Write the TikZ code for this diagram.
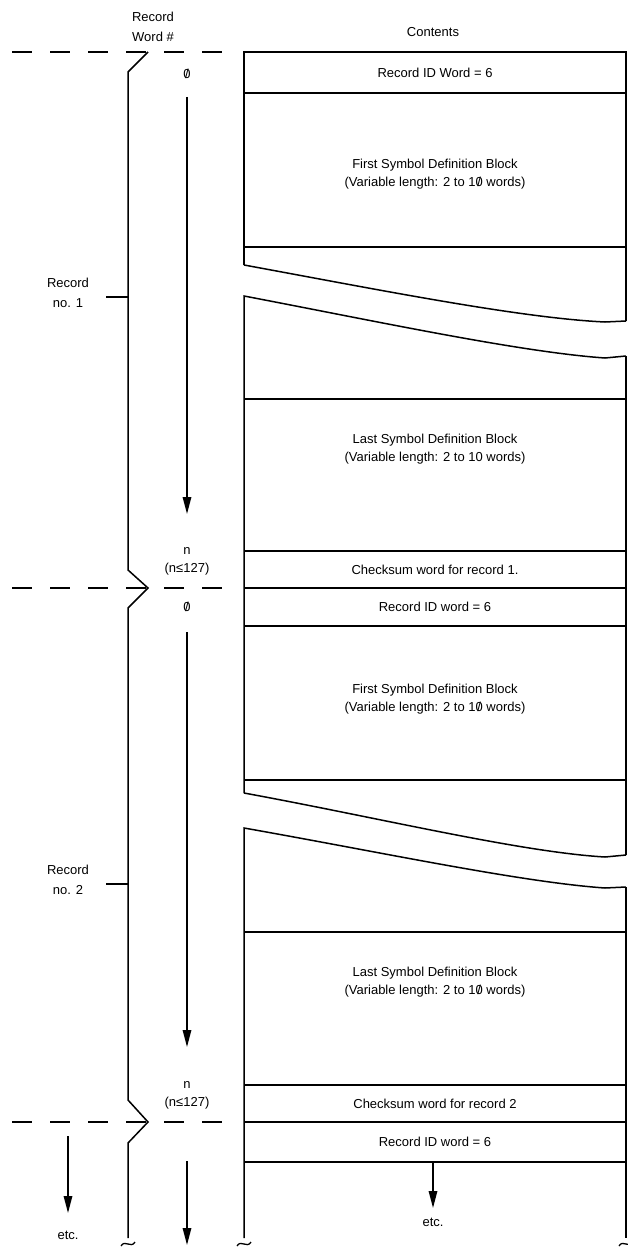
\documentclass[tikz,border=0pt]{standalone}
\usepackage{fontspec}
\setmainfont{Liberation Sans}
\usetikzlibrary{arrows.meta}
\newcommand{\zs}{\ooalign{0\cr\hidewidth/\hidewidth\cr}}
\tikzset{
  txt/.style={font=\fontsize{13}{18}\selectfont, align=center, inner sep=0pt},
  wide/.style={font=\fontsize{13}{20.5}\selectfont, align=center, inner sep=0pt},
  edge/.style={line width=1.5pt},
  dashline/.style={line width=1.8pt, dash pattern=on 20pt off 18pt},
  arr/.style={line width=1.5pt, -{Triangle[length=17pt,width=8.5pt]}},
  tick/.style={line width=1.5pt},
}
\newcommand{\tildemark}[2]{\draw[line width=1.3pt] (#1-7,#2+2) .. controls (#1-3,#2-5) and (#1+3,#2+5) .. (#1+7,#2-2);}
\begin{document}
\begin{tikzpicture}[x=1pt,y=-1pt]
\useasboundingbox (0,0) rectangle (628,1249);

% headings
\node[wide] (hword) at (153,27) {Record\\Word \#};
\node[txt] (hcont) at (433,32) {Contents};

% dashed separators
\draw[dashline] (12,52) -- (224,52);
\draw[dashline] (12,588) -- (224,588);
\draw[dashline] (12,1122) -- (224,1122);

% brace
\draw[edge, line join=miter] (148,52) -- (128,72) -- (128,570) -- (148,588) -- (128,608) -- (128,1100) -- (148,1122) -- (128,1143) -- (128,1238);
\coordinate (b1) at (128,297);
\coordinate (b2) at (128,884);
\coordinate (t1) at (106,297);
\coordinate (t2) at (106,884);
\draw[tick] (t1) -- (b1);
\draw[tick] (t2) -- (b2);
\node[wide] (rec1) at (68,293) {Record\\no. 1};
\node[wide] (rec2) at (68,880) {Record\\no. 2};

% box outline
\draw[edge] (244,265) -- (244,52) -- (626,52) -- (626,321);
\draw[edge] (244,265) .. controls (380,290) and (520,318) .. (605,322) -- (626,321);
\draw[edge] (626,356) -- (605,358) .. controls (520,352) and (380,322) .. (244,296) -- (244,793);
\draw[edge] (626,356) -- (626,855);
\draw[edge] (244,793) .. controls (380,818) and (520,852) .. (605,857) -- (626,855);
\draw[edge] (626,887) -- (605,888) .. controls (520,882) and (380,852) .. (244,828) -- (244,1238);
\draw[edge] (626,887) -- (626,1238);
\foreach \yy in {93,247,399,551,588,626,780,932,1085,1122,1162}
  \draw[edge] (244,\yy) -- (626,\yy);

% tildes
\tildemark{128}{1244}
\tildemark{244}{1244}
\tildemark{626}{1244}

% contents
\node[txt] (id1) at (435,73) {Record ID Word = 6};
\node[txt] (fb1) at (435,174) {First Symbol Definition Block\\(Variable length: 2 to 1\zs{} words)};
\node[txt] (lb1) at (435,449) {Last Symbol Definition Block\\(Variable length: 2 to 10 words)};
\node[txt] (cs1) at (435,570) {Checksum word for record 1.};
\node[txt] (id2) at (435,607) {Record ID word = 6};
\node[txt] (fb2) at (435,699) {First Symbol Definition Block\\(Variable length: 2 to 1\zs{} words)};
\node[txt] (lb2) at (435,982) {Last Symbol Definition Block\\(Variable length: 2 to 1\zs{} words)};
\node[txt] (cs2) at (435,1104) {Checksum word for record 2};
\node[txt] (id3) at (435,1142) {Record ID word = 6};

% record word numbers
\node[txt] (z1) at (187,74) {\zs};
\node[txt] (n1) at (187,561) {n\\(n≤127)};
\node[txt] (z2) at (187,607) {\zs};
\node[txt] (n2) at (187,1095) {n\\(n≤127)};

% arrows
\coordinate (a1s) at (187,97);
\coordinate (a1e) at (187,514);
\coordinate (a2s) at (187,632);
\coordinate (a2e) at (187,1047);
\coordinate (a3s) at (187,1161);
\coordinate (a3e) at (187,1245);
\coordinate (a4s) at (68,1136);
\coordinate (a4e) at (68,1213);
\coordinate (a5s) at (433,1162);
\coordinate (a5e) at (433,1208);
\draw[arr] (a1s) -- (a1e);
\draw[arr] (a2s) -- (a2e);
\draw[arr] (a3s) -- (a3e);
\draw[arr] (a4s) -- (a4e);
\draw[arr] (a5s) -- (a5e);
\node[txt] (etc1) at (68,1235) {etc.};
\node[txt] (etc2) at (433,1222) {etc.};
\end{tikzpicture}
\end{document}
